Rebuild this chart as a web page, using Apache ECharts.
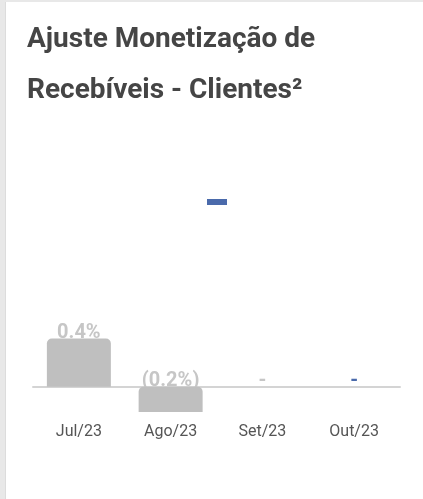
<!DOCTYPE html>
<html>
<head>
<meta charset="utf-8">
<script src="https://cdn.jsdelivr.net/npm/echarts@6/dist/echarts.min.js"></script>
<style>
  html, body { margin: 0; padding: 0; background: #fff; }
  #chart { position: absolute; left: 0; top: 0; width: 423px; height: 499px; background: #fff; }
  #bandL { position: absolute; left: 0; top: 0; width: 5px; height: 499px; background: #e8e8e8; border-right: 1px solid #dcdcdc; pointer-events: none; }
  #bandT { position: absolute; left: 0; top: 0; width: 423px; height: 2px; background: #e8e8e8; pointer-events: none; }
</style>
</head>
<body>
<div id="chart"></div>
<div id="bandL"></div>
<div id="bandT"></div>
<script>
// ---- data ----
const titleText = 'Ajuste Monetização de\nRecebíveis - Clientes²';
const categories = ['Jul/23', 'Ago/23', 'Set/23', 'Out/23'];
const values = [0.40, -0.21, 0, 0];
const highlightIndex = 3; // last month shown in blue
const seriesNames = ['Realizado', 'Projetado'];

// ---- styles ----
const GREY = '#bfbfbf';
const GREY_LABEL = '#c6c6c6';
const BLUE = '#4a6aab';

function fmt(v) {
  if (v === 0) return '-';
  const s = Math.abs(v).toFixed(1) + '%';
  return v < 0 ? '(' + s + ')' : s;
}

const greyData = values.map((v, i) => i === highlightIndex ? null : v);
const blueData = values.map((v, i) => i === highlightIndex ? v : null);

function labelSeries(data, color) {
  return {
    type: 'bar', data: data, barWidth: 64, barGap: '-100%', z: 1,
    itemStyle: { color: 'rgba(0,0,0,0)' },
    silent: true, legendHoverLink: false,
    label: {
      show: true, position: 'top', distance: -4,
      formatter: p => fmt(p.value),
      color: color, fontSize: 20, fontWeight: 'bold', fontFamily: 'Roboto'
    }
  };
}
function barSeries(name, data, color) {
  return {
    name: name, type: 'bar', data: data, barWidth: 64, barGap: '-100%', z: 2,
    itemStyle: { color: color, borderRadius: [5, 5, 0, 0] },
    label: { show: false }
  };
}

const chart = echarts.init(document.getElementById('chart'), null, { renderer: 'canvas' });
chart.setOption({
  animation: false,
  backgroundColor: '#fff',
  title: {
    text: titleText, left: 27, top: 14, padding: 0,
    textStyle: { fontSize: 28, fontWeight: 'bold', color: '#454545', lineHeight: 51, fontFamily: 'Roboto' }
  },
  legend: {
    data: [seriesNames[1]], left: 207, top: 199, padding: 0, itemWidth: 20, itemHeight: 6, icon: 'rect',
    formatter: () => '', textStyle: { fontSize: 1 }, selectedMode: false
  },
  grid: { left: 33, right: 23, top: 206, bottom: 52, containLabel: false },
  xAxis: {
    type: 'category', data: categories,
    axisTick: { show: false },
    axisLine: { show: true, lineStyle: { color: '#d4d4d4', width: 2 } },
    axisLabel: { color: '#555', fontSize: 16, fontFamily: 'Roboto', margin: -23 }
  },
  yAxis: { type: 'value', min: -0.5, max: 1.5, show: false, splitLine: { show: false } },
  series: [
    labelSeries(greyData, GREY_LABEL),
    labelSeries(blueData, BLUE),
    barSeries(seriesNames[0], greyData, GREY),
    barSeries(seriesNames[1], blueData, BLUE)
  ]
});
</script>
</body>
</html>
